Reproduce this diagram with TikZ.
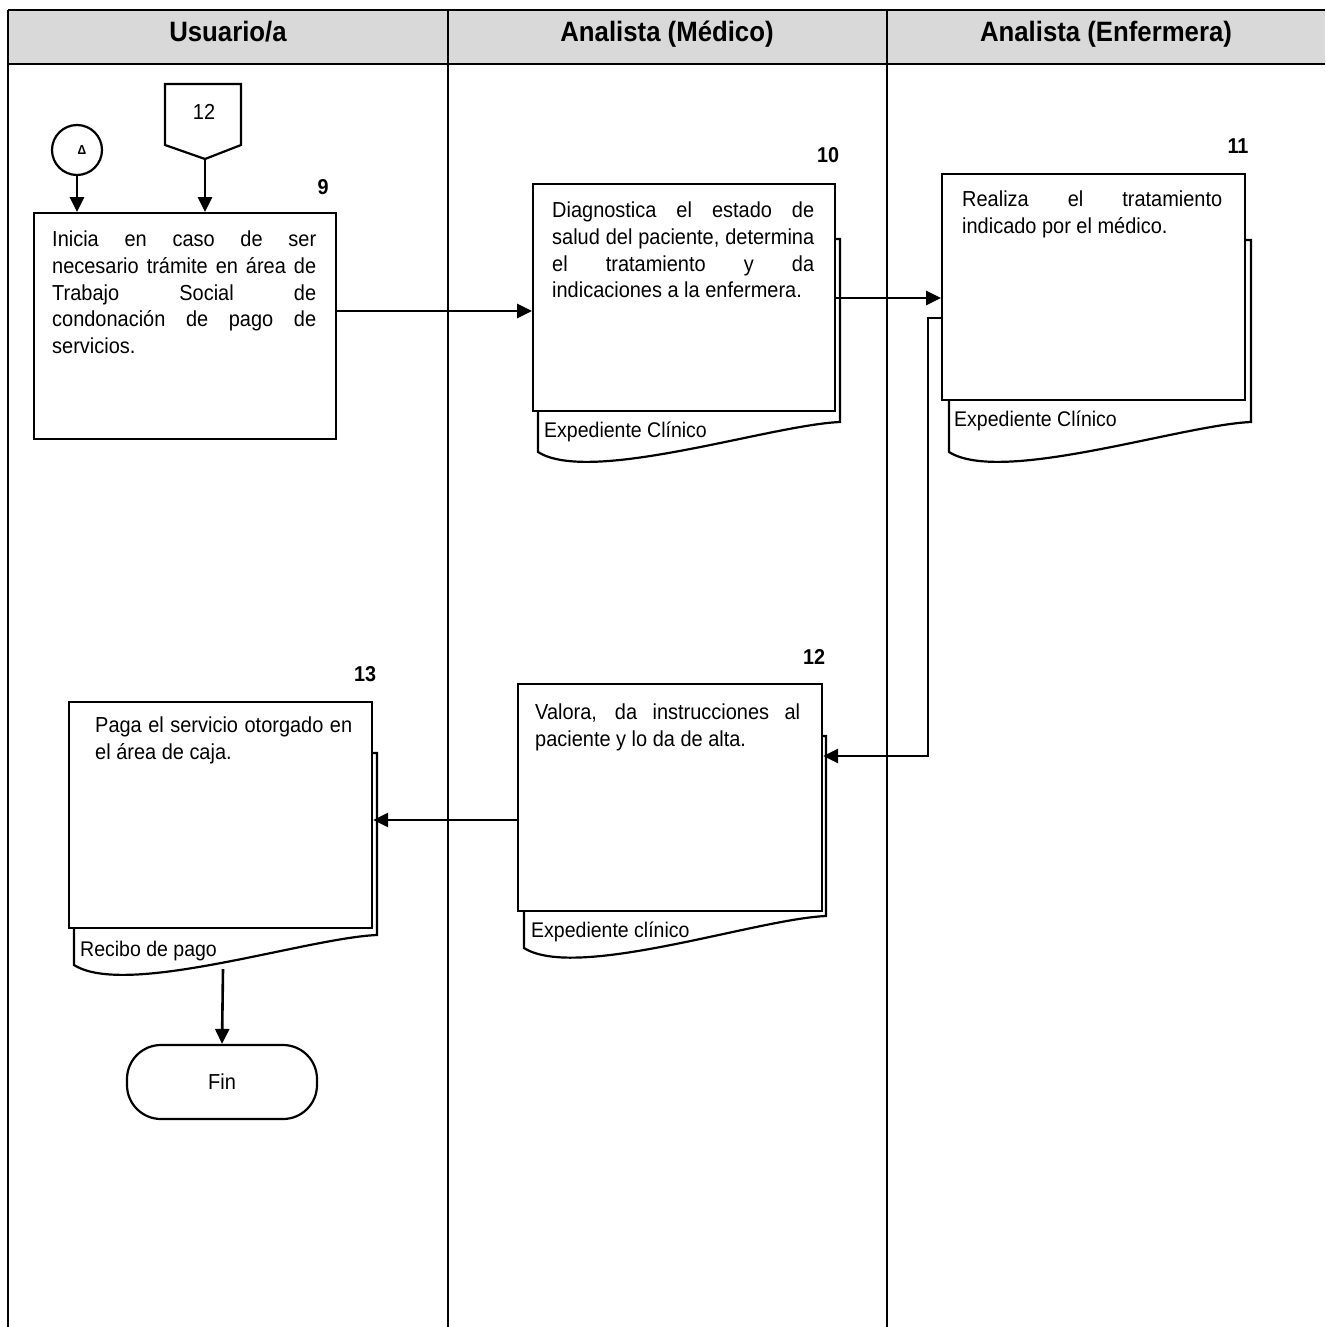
\documentclass[tikz,border=0pt]{standalone}
\usepackage{fontspec}
\setmainfont[FakeStretch=0.92]{Liberation Sans}
\usetikzlibrary{arrows.meta}
\definecolor{hdrgray}{HTML}{D9D9D9}
\hbadness=10000 \hfuzz=6pt \tolerance=10000
\hyphenpenalty=10000 \exhyphenpenalty=10000
\setlength{\parindent}{0pt}
\begin{document}
\begin{tikzpicture}[x=1pt,y=-1pt,
  lane/.style={line width=2.4pt},
  procbox/.style={draw, fill=white, line width=2.2pt, inner sep=0pt, anchor=north west},
  docback/.style={draw, fill=white, line width=2.2pt},
  txt/.style={anchor=north west, inner sep=0pt, text width=#1, align=justify, font=\fontsize{21.7}{26.6}\selectfont},
  lbl/.style={anchor=base west, inner sep=0pt, font=\fontsize{21.2}{24}\selectfont},
  num/.style={inner sep=0pt, font=\fontsize{21.5}{24}\selectfont\bfseries},
  hdr/.style={anchor=base, inner sep=0pt, font=\fontsize{28}{30}\selectfont\bfseries},
  arr/.style={line width=2.6pt, -{Triangle[length=15pt,width=14pt]}},
  ln/.style={line width=2.6pt}]
\useasboundingbox (0,0) rectangle (1325,1327);
% header
\fill[hdrgray] (8,10) rectangle (1325,64);
\draw[lane] (8,10) -- (1325,10);
\draw[lane] (8,64) -- (1325,64);
\draw[lane] (8,10) -- (8,1327);
\draw[lane] (448,10) -- (448,1327);
\draw[lane] (887,10) -- (887,1327);
\node[hdr] (h1) at (228,42) {Usuario/a};
\node[hdr] (h2) at (667,42) {Analista (Médico)};
\node[hdr] (h3) at (1106,42) {Analista (Enfermera)};

% connectors at top
\node[draw, circle, line width=2.2pt, minimum size=50pt, inner sep=0pt] (c1) at (77,150) {};
\node[inner sep=0pt, font=\fontsize{13}{14}\selectfont\bfseries] (c1t) at (82,150) {Δ};
\draw[line width=2.2pt, fill=white] (165,84) -- (241,84) -- (241,145) -- (205,159) -- (165,145) -- cycle;
\coordinate (op) at (205,159);
\node[inner sep=0pt, font=\fontsize{21.7}{24}\selectfont] (opt) at (204,112) {12};

% step 9
\node[procbox, minimum width=302pt, minimum height=226pt] (b9) at (33,212) {};
\node[txt=264pt] (b9t) at (52,231) {Inicia en caso de ser\linebreak necesario trámite en área de\linebreak Trabajo Social de\linebreak condonación de pago de\linebreak servicios.};
\node[num] (n9) at (323,187) {9};

% step 10
\draw[docback] (538,239) -- (840,239) -- (840,422) .. controls (770,425) and (590,485) .. (538,452) -- cycle;
\node[procbox, minimum width=302pt, minimum height=227pt] (b10) at (532,183) {};
\node[txt=262pt] (b10t) at (552,202) {Diagnostica el estado de\linebreak salud del paciente, determina\linebreak el tratamiento y da\linebreak indicaciones a la enfermera.};
\node[lbl] (l10) at (544,437) {Expediente Clínico};
\node[num] (n10) at (828,155) {10};

% step 11
\draw[docback] (949,240) -- (1251,240) -- (1251,422) .. controls (1181,425) and (1001,485) .. (949,452) -- cycle;
\node[procbox, minimum width=303pt, minimum height=226pt] (b11) at (941,173) {};
\node[txt=260pt] (b11t) at (962,191) {Realiza el tratamiento\linebreak indicado por el médico.};
\node[lbl] (l11) at (954,426) {Expediente Clínico};
\node[num] (n11) at (1238,146) {11};

% step 12
\draw[docback] (524,736) -- (826,736) -- (826,916) .. controls (756,919) and (576,981) .. (524,948) -- cycle;
\node[procbox, minimum width=304pt, minimum height=227pt] (b12) at (517,683) {};
\node[txt=265pt] (b12t) at (535,704) {Valora, da instrucciones al\linebreak paciente y lo da de alta.};
\node[lbl] (l12) at (531,937) {Expediente clínico};
\node[num] (n12) at (814,657) {12};

% step 13
\draw[docback] (74,753) -- (377,753) -- (377,935) .. controls (306,938) and (126,998) .. (74,965) -- cycle;
\node[procbox, minimum width=303pt, minimum height=226pt] (b13) at (68,701) {};
\node[txt=257pt] (b13t) at (95,717) {Paga el servicio otorgado en el área de caja.};
\node[lbl] (l13) at (80,956) {Recibo de pago};
\node[num] (n13) at (365,674) {13};
\coordinate (w13) at (223,969);

% Fin
\node[draw, line width=2.2pt, rounded corners=34pt, minimum width=190pt, minimum height=74pt, inner sep=0pt, font=\fontsize{21.7}{24}\selectfont] (fin) at (222,1082) {Fin};

% arrows
\draw[arr] (c1.south) -- (c1.south |- b9.north);
\draw[arr] (op) -- (op |- b9.north);
\draw[arr] (b9.east |- 0,311) -- (b10.west |- 0,311);
\draw[arr] (b10.east |- 0,298) -- (b11.west |- 0,298);
\draw[arr] (b11.west |- 0,318) -- (928,318) -- (928,756) -- (b12.east |- 0,756);
\draw[arr] (b12.west |- 0,820) -- (b13.east |- 0,820);
\draw[arr] (w13) -- (fin.north);
\end{tikzpicture}
\end{document}
